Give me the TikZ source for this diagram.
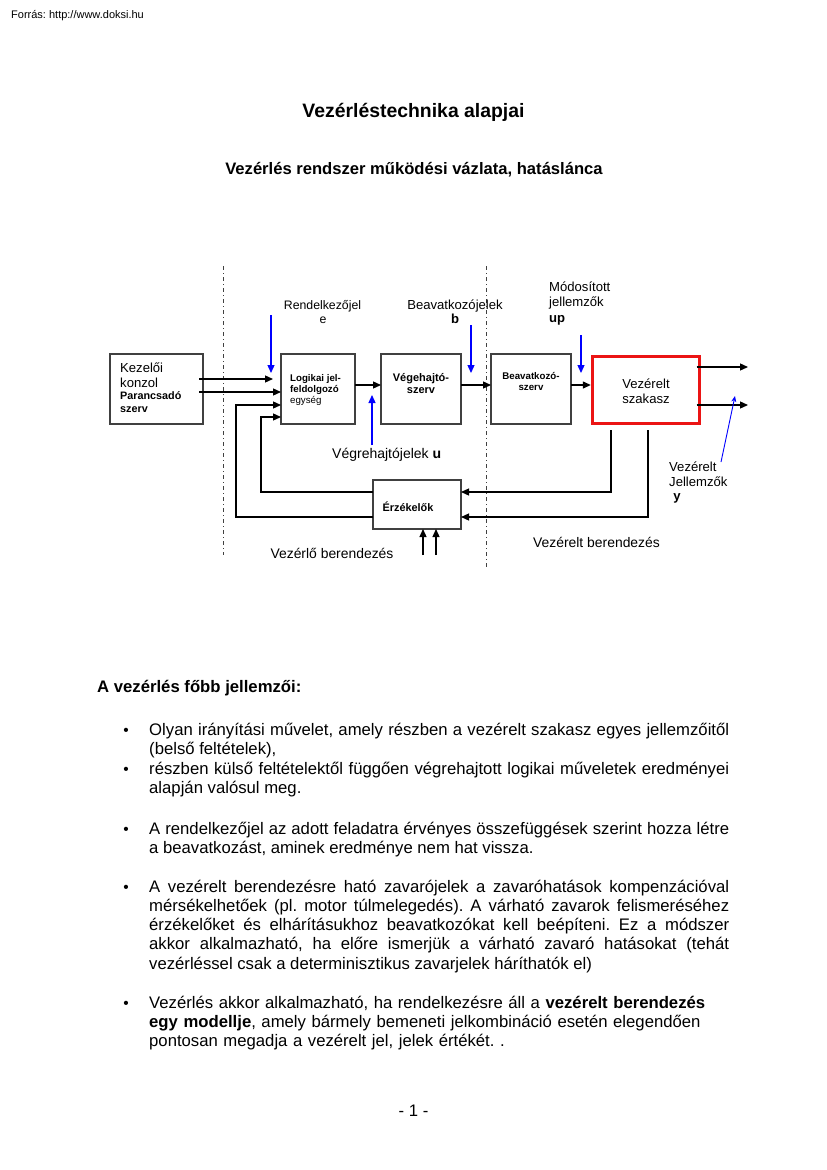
\documentclass[tikz,border=0pt]{standalone}
\usepackage{fontspec}
\setmainfont{Liberation Sans}
\usetikzlibrary{arrows.meta,calc}
\newcommand{\fsz}[1]{\fontsize{#1}{#1}\selectfont}
\hyphenpenalty=10000
\exhyphenpenalty=10000
\tolerance=10000
\parindent=0pt
\frenchspacing
\begin{document}
\begin{tikzpicture}[x=1pt,y=-1pt,
  box/.style={draw=black!75, line width=1.1pt, inner sep=0pt, outer sep=0pt},
  redbox/.style={draw={rgb,255:red,235;green,20;blue,20}, line width=3.4pt, inner sep=0pt, outer sep=0pt},
  conn/.style={line width=1.3pt, -{Triangle[length=8pt,width=7pt]}},
  bconn/.style={blue, line width=1.3pt, -{Triangle[length=8pt,width=7pt]}},
  thinblue/.style={blue, line width=0.9pt, -{Stealth[length=6pt,width=5pt]}},
  sepline/.style={black!75, line width=0.9pt, dash pattern=on 4pt off 3pt on 1pt off 3pt},
  lbl/.style={inner sep=0pt, anchor=base},
  lblw/.style={inner sep=0pt, anchor=base west},
  para/.style={inner sep=0pt, anchor=north west, text width=580pt, align=justify, font=\fontsize{16.7}{19.2}\selectfont},
  paral/.style={inner sep=0pt, anchor=north west, text width=580pt, align=left, font=\fontsize{16.7}{19.2}\selectfont},
  bul/.style={inner sep=0pt, anchor=base, font=\fontsize{15.5}{19.2}\selectfont},
]
\fill[white] (0,0) rectangle (827,1170);
\useasboundingbox (0,0) rectangle (827,1170);

% header and titles
\node[lblw, font=\fsz{11}] (src) at (11,18) {Forrás: http://www.doksi.hu};
\node[lbl, font=\bfseries\fsz{19.4}] (title) at (413.5,117) {Vezérléstechnika alapjai};
\node[lbl, font=\bfseries\fsz{16.6}] (subtitle) at (414,174) {Vezérlés rendszer működési vázlata, hatáslánca};

% separators
\draw[sepline] (223,266) -- (223,555);
\draw[sepline] (486,266) -- (486,568);

% boxes
\node[box, minimum width=93pt, minimum height=70pt] (kez) at (156.5,389) {};
\node[box, minimum width=74pt, minimum height=70pt] (log) at (318,389) {};
\node[box, minimum width=80pt, minimum height=70pt] (veg) at (421,389) {};
\node[box, minimum width=80pt, minimum height=70pt] (bea) at (531,389) {};
\node[redbox, minimum width=107pt, minimum height=67pt] (vsz) at (646,390) {};
\node[box, minimum width=88pt, minimum height=49pt] (erz) at (417,504.5) {};

% box texts
\node[lblw, font=\fsz{13.1}] (k1) at (120,372) {Kezelői};
\node[lblw, font=\fsz{13.1}] (k2) at (120,387) {konzol};
\node[lblw, font=\bfseries\fsz{10.8}] (k3) at (120,399) {Parancsadó};
\node[lblw, font=\bfseries\fsz{10.8}] (k4) at (120,412) {szerv};
\node[lblw, font=\bfseries\fsz{9.7}] (l1) at (290,381) {Logikai jel-};
\node[lblw, font=\bfseries\fsz{9.7}] (l2) at (290,392) {feldolgozó};
\node[lblw, font=\fsz{9.7}] (l3) at (290,403) {egység};
\node[lbl, font=\bfseries\fsz{11}] (v1) at (421,381) {Végehajtó-};
\node[lbl, font=\bfseries\fsz{11}] (v2) at (421,393) {szerv};
\node[lbl, font=\bfseries\fsz{9.7}] (b1) at (531,379) {Beavatkozó-};
\node[lbl, font=\bfseries\fsz{9.7}] (b2) at (531,390) {szerv};
\node[lbl, font=\fsz{13.1}] (s1) at (646,388) {Vezérelt};
\node[lbl, font=\fsz{13.1}] (s2) at (646,403) {szakasz};
\node[lbl, font=\bfseries\fsz{10.9}] (z1) at (408,511) {Érzékelők};

% labels
\node[lbl, font=\fsz{12.3}] (re1) at (322.5,309) {Rendelkezőjel};
\node[lbl, font=\fsz{12.3}] (re2) at (323,323) {e};
\node[lbl, font=\fsz{13.1}] (be1) at (455,309) {Beavatkozójelek};
\node[lbl, font=\bfseries\fsz{13.1}] (be2) at (455,323) {b};
\node[lblw, font=\fsz{13.1}] (mo1) at (549,291) {Módosított};
\node[lblw, font=\fsz{13.1}] (mo2) at (549,306) {jellemzők};
\node[lblw, font=\bfseries\fsz{13.1}] (mo3) at (549,322) {up};
\node[lblw, font=\fsz{14}] (vu) at (332,458) {Végrehajtójelek \textbf{u}};
\node[lbl, font=\fsz{13.9}] (vlb) at (332,558) {Vezérlő berendezés};
\node[lbl, font=\fsz{13.9}] (vtb) at (596.5,547) {Vezérelt berendezés};
\node[lblw, font=\fsz{13.1}] (vj1) at (669,471) {Vezérelt};
\node[lblw, font=\fsz{13.1}] (vj2) at (669,486) {Jellemzők};
\node[lbl, font=\bfseries\fsz{13.1}] (vj3) at (677,500) {y};

% free ends
\coordinate (e1) at (273,379);
\coordinate (o1) at (748,367);
\coordinate (o2) at (748,405);
\coordinate (eS) at (271,315);  \coordinate (eT) at (271,373);
\coordinate (bS) at (471,325);  \coordinate (bT) at (471,373);
\coordinate (uS) at (581,335);  \coordinate (uT) at (581,373);
\coordinate (vS) at (372,445);  \coordinate (vT) at (372,395);
\coordinate (yS) at (721,462);  \coordinate (yT) at (735,396);

% connectors
\draw[conn] ($(kez.east)+(-4,-10)$) -- (e1);
\draw[conn] ($(kez.east)+(-4,3)$) -- ($(log.west)+(0,3)$);
\draw[conn] ($(erz.west)+(0,12.5)$) -| ($(log.west)+(-45,16)$) -- ($(log.west)+(0,16)$);
\draw[conn] ($(erz.west)+(0,-12.5)$) -| ($(log.west)+(-20,28)$) -- ($(log.west)+(0,28)$);
\draw[conn] ($(log.east)+(0,-4)$) -- ($(veg.west)+(0,-4)$);
\draw[conn] ($(veg.east)+(0,-4)$) -- ($(bea.west)+(0,-4)$);
\draw[conn] ($(bea.east)+(0,-4)$) -- ($(vsz.west)+(-1.7,-5)$);
\draw[conn] ($(vsz.east)+(-3,-23)$) -- (o1);
\draw[conn] ($(vsz.east)+(-3,15)$) -- (o2);
\draw[conn] ($(vsz.south)+(-35,6.5)$) |- ($(erz.east)+(0,-12.5)$);
\draw[conn] ($(vsz.south)+(2,6.5)$) |- ($(erz.east)+(0,12.5)$);
\draw[conn] ($(erz.south)+(6,26)$) -- ($(erz.south)+(6,0)$);
\draw[conn] ($(erz.south)+(19,26)$) -- ($(erz.south)+(19,0)$);

% blue signals
\draw[bconn] (eS) -- (eT);
\draw[bconn] (bS) -- (bT);
\draw[bconn] (uS) -- (uT);
\draw[bconn] (vS) -- (vT);
\draw[thinblue] (yS) -- (yT);

% text block
\node[lblw, font=\bfseries\fontsize{16.7}{19.2}\selectfont] (head) at (97,692) {A vezérlés főbb jellemzői:};

\node[bul] (d1) at (126,735.5) {•};
\node[para] (p1) at (149,719.5) {\rule{0pt}{16pt}Olyan irányítási művelet, amely részben a vezérelt szakasz egyes jellemzőitől\linebreak (belső feltételek),};
\node[bul] (d2) at (126,774) {•};
\node[para] (p2) at (149,758) {\rule{0pt}{16pt}részben külső feltételektől függően végrehajtott logikai műveletek eredményei\linebreak alapján valósul meg.};
\node[bul] (d3) at (126,834) {•};
\node[para] (p3) at (149,818) {\rule{0pt}{16pt}A rendelkezőjel az adott feladatra érvényes összefüggések szerint hozza létre\linebreak a beavatkozást, aminek eredménye nem hat vissza.};
\node[bul] (d4) at (126,892) {•};
\node[para] (p4) at (149,876) {\rule{0pt}{16pt}A vezérelt berendezésre ható zavarójelek a zavaróhatások kompenzációval\linebreak mérsékelhetőek (pl. motor túlmelegedés). A várható zavarok felismeréséhez\linebreak érzékelőket és elhárításukhoz beavatkozókat kell beépíteni. Ez a módszer\linebreak akkor alkalmazható, ha előre ismerjük a várható zavaró hatásokat (tehát\linebreak vezérléssel csak a determinisztikus zavarjelek háríthatók el)};
\node[bul] (d5) at (126,1008) {•};
\node[paral] (p5) at (149,992) {\rule{0pt}{16pt}Vezérlés akkor alkalmazható, ha rendelkezésre áll a \textbf{vezérelt berendezés}\\ \textbf{egy modellje}, amely bármely bemeneti jelkombináció esetén elegendően\\ pontosan megadja a vezérelt jel, jelek értékét. .};

\node[lbl, font=\fontsize{16.7}{19.2}\selectfont] (page) at (413.5,1116) {- 1 -};
\end{tikzpicture}
\end{document}
